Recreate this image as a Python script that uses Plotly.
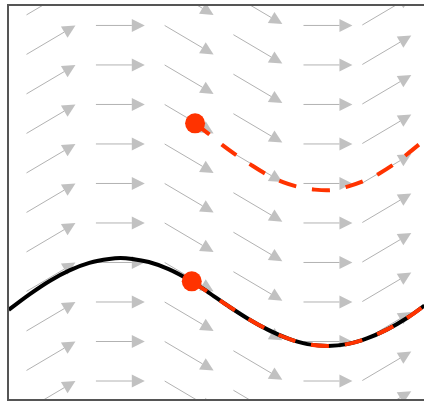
import plotly.graph_objects as go

# ---- slope field dy/dx = cos(x): arrow columns (x in radians) ----
col_x = [0.52, 1.57, 2.61, 3.65, 4.71, 5.60]
col_slope = [0.89, 0.0, -0.89, -0.89, 0.0, 0.89]
col_shift = [-0.33, 0.0, -0.33, -0.54, 0.0, -0.56]
row_y = [7.2, 6.3, 5.4, 4.5, 3.6, 2.7, 1.8, 0.9, 0.0, -0.9, -1.8, -2.7]
arrow_half = 0.37

# ---- exact solution (black) ----
exact_x = [-0.12, 0.2, 0.5, 0.8, 1.1, 1.4, 1.57, 1.75, 2.0, 2.3, 2.65, 2.9, 3.2,
           3.5, 3.8, 4.1, 4.4, 4.71, 5.0, 5.3, 5.6, 5.9, 6.17]
exact_y = [-0.18, 0.18, 0.48, 0.72, 0.89, 0.98, 1.0, 0.98, 0.91, 0.75, 0.47, 0.22, -0.09,
           -0.38, -0.63, -0.83, -0.96, -1.0, -0.96, -0.83, -0.63, -0.37, -0.08]

# ---- approximate solutions (red dashed) ----
low_x = [2.65, 2.9, 3.2, 3.5, 3.8, 4.1, 4.4, 4.71, 5.0, 5.3, 5.6, 5.9, 6.17]
low_y = [0.47, 0.22, -0.09, -0.38, -0.63, -0.83, -0.96, -1.0, -0.96, -0.83, -0.63, -0.37, -0.08]
up_x = [2.70, 2.93, 3.11, 3.33, 3.53, 3.79, 4.03, 4.27, 4.51, 4.77, 5.03, 5.29, 5.50, 5.73, 5.91, 6.17]
up_y = [4.07, 3.80, 3.58, 3.34, 3.14, 2.90, 2.73, 2.62, 2.56, 2.55, 2.64, 2.78, 2.94, 3.16, 3.37, 3.69]

# ---- initial points ----
start_x = [2.70, 2.65]
start_y = [4.07, 0.47]

ax_, ay_, sz = [], [], []
for cx, s, sh in zip(col_x, col_slope, col_shift):
    for ry in row_y:
        cy = ry + sh
        ax_ += [cx - arrow_half, cx + arrow_half, None]
        ay_ += [cy - s * arrow_half, cy + s * arrow_half, None]
        sz += [0, 13, 0]

fig = go.Figure()
fig.add_trace(go.Scatter(
    x=ax_, y=ay_, mode="lines+markers",
    line=dict(color="#b2b2b2", width=1),
    marker=dict(symbol="arrow-up", size=sz, color="#a6a6a6", angleref="previous",
                line=dict(width=0)),
    hoverinfo="skip", showlegend=False))
fig.add_trace(go.Scatter(x=exact_x, y=exact_y, mode="lines",
                         line=dict(color="black", width=4, shape="spline"), showlegend=False))
fig.add_trace(go.Scatter(x=low_x, y=low_y, mode="lines",
                         line=dict(color="#ff3300", width=4, dash="18px,16px", shape="spline"),
                         showlegend=False))
fig.add_trace(go.Scatter(x=up_x, y=up_y, mode="lines",
                         line=dict(color="#ff3300", width=4, dash="18px,16px", shape="spline"),
                         showlegend=False))
fig.add_trace(go.Scatter(x=start_x, y=start_y, mode="markers",
                         marker=dict(color="#ff3300", size=20), showlegend=False))

fig.update_layout(
    width=424, height=401,
    margin=dict(l=9, r=0, t=6, b=2),
    paper_bgcolor="white", plot_bgcolor="white",
    xaxis=dict(range=[-0.115, 6.163], showgrid=False, zeroline=False, showticklabels=False,
               ticks="", showline=True, mirror=True, linecolor="#555555", linewidth=2),
    yaxis=dict(range=[-2.21, 6.743], showgrid=False, zeroline=False, showticklabels=False,
               ticks="", showline=True, mirror=False, linecolor="#555555", linewidth=2),
)
fig.write_html("out.html", config={"displayModeBar": False},
               post_script="document.body.style.margin='0';document.body.style.overflow='hidden';")
